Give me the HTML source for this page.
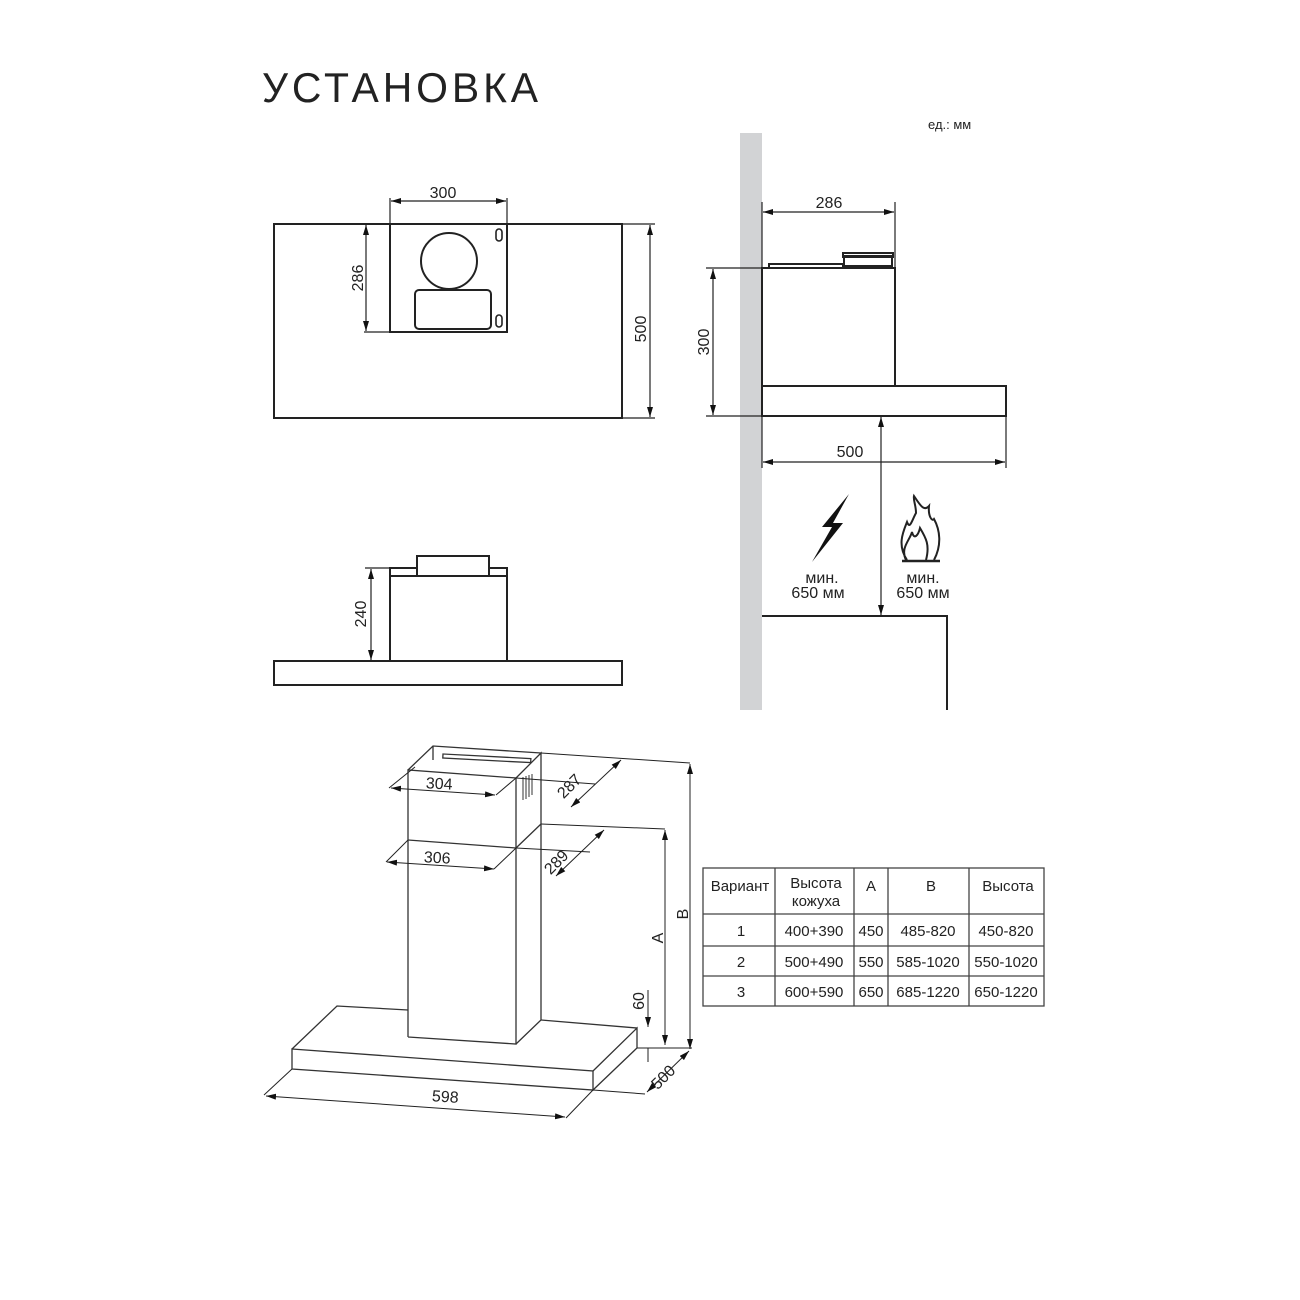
<!DOCTYPE html>
<html><head><meta charset="utf-8"><style>
html,body{margin:0;padding:0;background:#fff}
svg{display:block}
text{font-family:"Liberation Sans","DejaVu Sans",sans-serif;fill:#222}
</style></head><body>
<svg width="1300" height="1300" viewBox="0 0 1300 1300" xmlns="http://www.w3.org/2000/svg">
<defs>
<marker id="a" viewBox="0 0 10 6" refX="10" refY="3" markerWidth="10" markerHeight="6" orient="auto-start-reverse" markerUnits="userSpaceOnUse"><path d="M0,0 L10,3 L0,6 z" fill="#111"/></marker>
</defs>
<text x="262" y="102" font-size="42" style="letter-spacing:4px" textLength="280" lengthAdjust="spacingAndGlyphs">УСТАНОВКА</text>
<text x="928" y="129" font-size="13">ед.:  мм</text>

<g stroke="#222" stroke-width="2" fill="none">
<rect x="274" y="224" width="348" height="194"/>
<rect x="390" y="224" width="117" height="108"/>
<circle cx="449" cy="261" r="28"/>
<rect x="415" y="290" width="76" height="39" rx="4"/>
<rect x="496" y="229" width="6" height="12" rx="3" stroke-width="1.6"/>
<rect x="496" y="315" width="6" height="12" rx="3" stroke-width="1.6"/>
</g>
<g stroke="#222" stroke-width="1.2" fill="none">
<line x1="390" y1="198" x2="390" y2="224"/><line x1="507" y1="198" x2="507" y2="224"/>
<line x1="391" y1="201" x2="506" y2="201" marker-start="url(#a)" marker-end="url(#a)"/>
<line x1="364" y1="332" x2="390" y2="332"/>
<line x1="366" y1="225" x2="366" y2="331" marker-start="url(#a)" marker-end="url(#a)"/>
<line x1="622" y1="224" x2="655" y2="224"/><line x1="622" y1="418" x2="655" y2="418"/>
<line x1="650" y1="225" x2="650" y2="417" marker-start="url(#a)" marker-end="url(#a)"/>
</g>
<text x="443" y="198" font-size="16" text-anchor="middle">300</text>
<text transform="translate(363,278) rotate(-90)" font-size="16" text-anchor="middle">286</text>
<text transform="translate(646,329) rotate(-90)" font-size="16" text-anchor="middle">500</text>

<rect x="740" y="133" width="22" height="577" fill="#d2d3d5"/>
<g stroke="#222" stroke-width="2" fill="none">
<rect x="762" y="268" width="133" height="118"/>
<rect x="769" y="264" width="74" height="4"/>
<rect x="844" y="256" width="48" height="10"/>
<rect x="843" y="253" width="50" height="4"/>
<rect x="762" y="386" width="244" height="30"/>
<polyline points="762,616 947,616 947,710"/>
</g>
<g stroke="#222" stroke-width="1.2" fill="none">
<line x1="762" y1="202" x2="762" y2="268"/><line x1="895" y1="202" x2="895" y2="268"/>
<line x1="763" y1="212" x2="894" y2="212" marker-start="url(#a)" marker-end="url(#a)"/>
<line x1="706" y1="268" x2="762" y2="268"/><line x1="706" y1="416" x2="762" y2="416"/>
<line x1="713" y1="269" x2="713" y2="415" marker-start="url(#a)" marker-end="url(#a)"/>
<line x1="762" y1="416" x2="762" y2="468"/><line x1="1006" y1="416" x2="1006" y2="468"/>
<line x1="763" y1="462" x2="1005" y2="462" marker-start="url(#a)" marker-end="url(#a)"/>
<line x1="881" y1="417" x2="881" y2="615" marker-start="url(#a)" marker-end="url(#a)"/>
</g>
<text x="829" y="208" font-size="16" text-anchor="middle">286</text>
<text transform="translate(709,342) rotate(-90)" font-size="16" text-anchor="middle">300</text>
<text x="850" y="457" font-size="16" text-anchor="middle">500</text>
<path d="M849,494 L822,527 L832,527 L812,562 L843,523 L833,523 Z" fill="#111"/>
<path d="M907,560 C897,545 903,532 907,522 C910,530 912,520 916,513 C916,505 913,500 914,496 C920,505 924,512 929,506 C928,516 932,522 934,519 C940,530 942,545 934,560 M906,560 C900,548 910,540 912,532 C914,540 918,536 920,528 C926,538 930,545 926,560" stroke="#222" stroke-width="2" fill="none"/>
<line x1="902" y1="561" x2="940" y2="561" stroke="#222" stroke-width="2.5"/>
<text x="822" y="583" font-size="16" text-anchor="middle">мин.</text>
<text x="818" y="598" font-size="16" text-anchor="middle">650 мм</text>
<text x="923" y="583" font-size="16" text-anchor="middle">мин.</text>
<text x="923" y="598" font-size="16" text-anchor="middle">650 мм</text>

<g stroke="#222" stroke-width="2" fill="none">
<rect x="274" y="661" width="348" height="24"/>
<rect x="390" y="576" width="117" height="85"/>
<rect x="390" y="568" width="117" height="8"/>
<rect x="417" y="556" width="72" height="20" fill="#fff"/>
</g>
<g stroke="#222" stroke-width="1.2" fill="none">
<line x1="365" y1="568" x2="390" y2="568"/>
<line x1="371" y1="569" x2="371" y2="660" marker-start="url(#a)" marker-end="url(#a)"/>
</g>
<text transform="translate(366,614) rotate(-90)" font-size="16" text-anchor="middle">240</text>

<g stroke="#333" stroke-width="1.3" fill="none">
<polyline points="408,1037 408,770 516,778 516,1044 408,1037"/>
<polyline points="516,778 541,753 541,1020 516,1044"/>
<polyline points="408,770 433,746 541,753"/>
<line x1="433" y1="746" x2="433" y2="760"/>
<line x1="408" y1="840" x2="516" y2="848"/><line x1="516" y1="848" x2="541" y2="824"/>
<polygon points="292,1049 593,1071 593,1090 292,1069"/>
<polyline points="593,1071 637,1028 637,1048 593,1090"/>
<polyline points="292,1049 337,1006 408,1010"/>
<line x1="541" y1="1020" x2="637" y2="1028"/>
<rect x="443" y="754" width="88" height="4" transform="rotate(3 443 754)"/>
</g>
<g stroke="#333" stroke-width="1">
<line x1="523" y1="777" x2="523" y2="800"/><line x1="526" y1="776" x2="526" y2="799"/><line x1="529" y1="775" x2="529" y2="797"/><line x1="532" y1="774" x2="532" y2="795"/>
</g>
<g stroke="#222" stroke-width="1" fill="none">
<line x1="391" y1="788" x2="495" y2="795" marker-start="url(#a)" marker-end="url(#a)"/>
<line x1="389" y1="788" x2="415" y2="767"/><line x1="496" y1="795" x2="516" y2="778"/>
<line x1="387" y1="862" x2="494" y2="869" marker-start="url(#a)" marker-end="url(#a)"/>
<line x1="386" y1="862" x2="408" y2="840"/><line x1="494" y1="869" x2="516" y2="848"/>
<line x1="516" y1="778" x2="595" y2="784"/><line x1="541" y1="753" x2="690" y2="763"/>
<line x1="571" y1="807" x2="621" y2="760" marker-start="url(#a)" marker-end="url(#a)"/>
<line x1="516" y1="848" x2="590" y2="852"/><line x1="541" y1="824" x2="665" y2="829"/>
<line x1="556" y1="876" x2="604" y2="830" marker-start="url(#a)" marker-end="url(#a)"/>
<line x1="665" y1="830" x2="665" y2="1045" marker-start="url(#a)" marker-end="url(#a)"/>
<line x1="690" y1="764" x2="690" y2="1049" marker-start="url(#a)" marker-end="url(#a)"/>
<line x1="648" y1="990" x2="648" y2="1027" marker-end="url(#a)"/>
<line x1="648" y1="1048" x2="648" y2="1062"/>
<line x1="637" y1="1048" x2="692" y2="1048"/>
<line x1="593" y1="1090" x2="645" y2="1094"/>
<line x1="647" y1="1092" x2="689" y2="1051" marker-start="url(#a)" marker-end="url(#a)"/>
<line x1="266" y1="1096" x2="565" y2="1117" marker-start="url(#a)" marker-end="url(#a)"/>
<line x1="264" y1="1095" x2="292" y2="1069"/><line x1="566" y1="1118" x2="593" y2="1090"/>
</g>
<g font-size="16">
<text x="439" y="789" text-anchor="middle" transform="rotate(3 439 789)">304</text>
<text x="437" y="863" text-anchor="middle" transform="rotate(3 437 863)">306</text>
<text transform="translate(573,790) rotate(-45)" text-anchor="middle">287</text>
<text transform="translate(560,866) rotate(-45)" text-anchor="middle">289</text>
<text transform="translate(663,938) rotate(-90)" text-anchor="middle">A</text>
<text transform="translate(688,914) rotate(-90)" text-anchor="middle">B</text>
<text transform="translate(644,1001) rotate(-90)" text-anchor="middle">60</text>
<text transform="translate(667,1081) rotate(-45)" text-anchor="middle">500</text>
<text x="445" y="1102" text-anchor="middle" transform="rotate(4 445 1102)">598</text>
</g>

<g stroke="#444" stroke-width="1.3" fill="none">
<rect x="703" y="868" width="341" height="138"/>
<line x1="703" y1="914" x2="1044" y2="914"/><line x1="703" y1="946" x2="1044" y2="946"/><line x1="703" y1="976" x2="1044" y2="976"/>
<line x1="775" y1="868" x2="775" y2="1006"/><line x1="854" y1="868" x2="854" y2="1006"/><line x1="888" y1="868" x2="888" y2="1006"/><line x1="969" y1="868" x2="969" y2="1006"/>
</g>
<g font-size="15" text-anchor="middle">
<text x="740" y="891">Вариант</text><text x="816" y="888">Высота</text><text x="816" y="906">кожуха</text>
<text x="871" y="891">A</text><text x="931" y="891">B</text><text x="1008" y="891">Высота</text>
<text x="741" y="936">1</text><text x="814" y="936">400+390</text><text x="871" y="936">450</text><text x="928" y="936">485-820</text><text x="1006" y="936">450-820</text>
<text x="741" y="967">2</text><text x="814" y="967">500+490</text><text x="871" y="967">550</text><text x="928" y="967">585-1020</text><text x="1006" y="967">550-1020</text>
<text x="741" y="997">3</text><text x="814" y="997">600+590</text><text x="871" y="997">650</text><text x="928" y="997">685-1220</text><text x="1006" y="997">650-1220</text>
</g>
</svg>
</body></html>
